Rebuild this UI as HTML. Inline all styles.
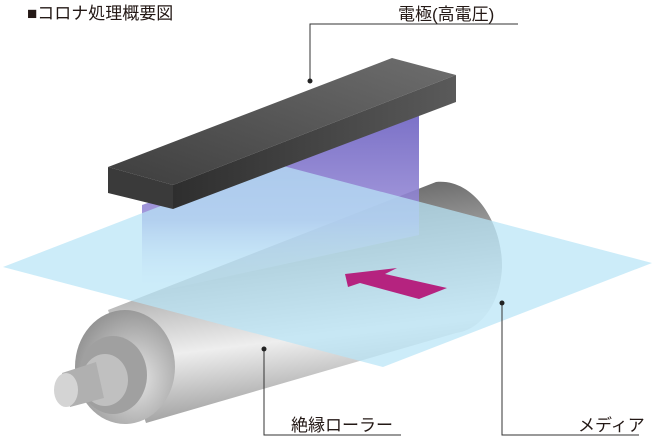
<!DOCTYPE html>
<html><head><meta charset="utf-8"><style>
body{margin:0;background:#fff;width:653px;height:440px;overflow:hidden}
svg{display:block}
text{font-family:"Liberation Sans","Noto Sans CJK JP",sans-serif;fill:#231815}
</style></head><body>
<svg width="653" height="440" viewBox="0 0 653 440">
<defs>
<linearGradient id="cyl" x1="0.1" y1="0" x2="0.3" y2="1">
<stop offset="0" stop-color="#4e4e4e"/><stop offset="0.4" stop-color="#a8a8a8"/><stop offset="0.7" stop-color="#eeeeee"/><stop offset="1" stop-color="#9a9a9a"/></linearGradient>
<radialGradient id="endg" cx="0.6" cy="0.6" r="0.7"><stop offset="0" stop-color="#e6e6e6"/><stop offset="1" stop-color="#8c8c8c"/></radialGradient>
<linearGradient id="cor" x1="0" y1="0" x2="0" y2="1"><stop offset="0" stop-color="#6a5fc0"/><stop offset="0.6" stop-color="#9b8fd8"/><stop offset="1" stop-color="#fff" stop-opacity="0"/></linearGradient>
<linearGradient id="top" x1="0" y1="1" x2="1" y2="0"><stop offset="0" stop-color="#3e3e3e"/><stop offset="1" stop-color="#6e6e6e"/></linearGradient>
<linearGradient id="side" x1="0" y1="0" x2="1" y2="0"><stop offset="0" stop-color="#2e2e2e"/><stop offset="1" stop-color="#5a5a5a"/></linearGradient>
</defs>
<text x="27" y="19" font-size="17">■コロナ処理概要図</text>
<text x="398" y="20" font-size="17">電極(高電圧)</text>
<text x="291" y="431" font-size="17">絶縁ローラー</text>
<text x="578" y="431" font-size="17">メディア</text>
<!-- roller -->
<path d="M108,310 L436,182 C475,178 503,225 502,268 C500,305 480,330 456,333 L146,423 Z" fill="url(#cyl)"/>
<ellipse cx="125" cy="367" rx="50" ry="57" fill="url(#endg)"/>
<ellipse cx="113" cy="375" rx="34" ry="39" fill="#a0a0a0"/>
<ellipse cx="105" cy="380" rx="23" ry="26" fill="#c0c0c0"/>
<polygon points="62,373 96,362 104,398 70,407" fill="#b0b0b0"/>
<ellipse cx="66" cy="390" rx="12" ry="17" fill="#d4d4d4"/>
<!-- corona -->
<polygon points="142,205 419,108 419,235 142,295" fill="url(#cor)" opacity="0.9"/>
<!-- media -->
<polygon points="3,267 272,163 652,263 383,367" fill="#b8e4f7" opacity="0.72"/>
<polygon points="345,274 397,268 385,274 447,288 419,299 360,283 348,287" fill="#b5237f"/>
<!-- electrode -->
<polygon points="108,167 392,58 456,75 173,185" fill="url(#top)"/>
<polygon points="108,167 173,185 173,209 108,193" fill="#3a3a3a"/>
<polygon points="173,185 456,75 456,102 173,209" fill="url(#side)"/>
<!-- leaders -->
<g stroke="#333" stroke-width="1" fill="none">
<polyline points="310,81 310,24 518,24"/>
<polyline points="264,349 264,435 401,435"/>
<polyline points="502,303 502,435 639,435"/>
</g>
<circle cx="310" cy="81" r="2.5" fill="#222"/>
<circle cx="264" cy="349" r="2.5" fill="#222"/>
<circle cx="502" cy="303" r="2.5" fill="#222"/>
</svg>
</body></html>
